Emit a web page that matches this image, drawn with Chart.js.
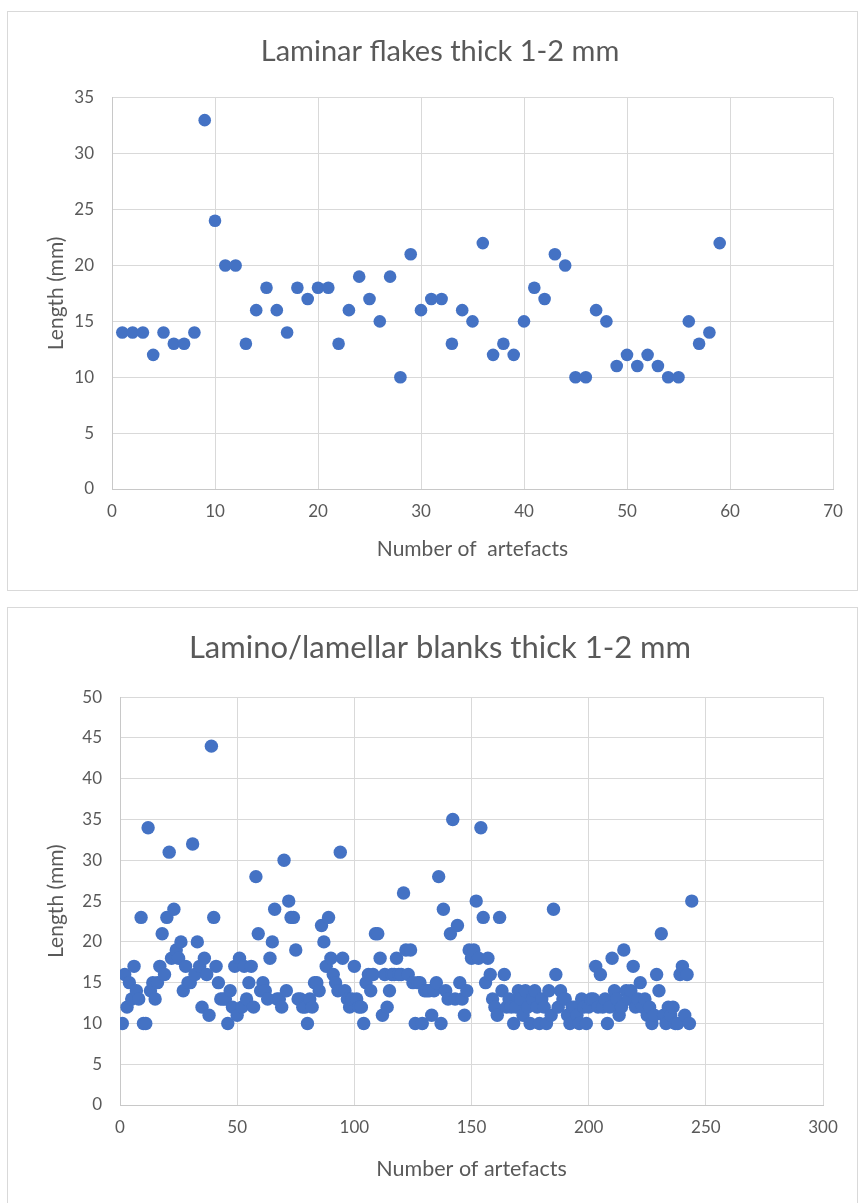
<!DOCTYPE html>
<html>
<head>
<meta charset="utf-8">
<script src="https://cdn.jsdelivr.net/npm/chart.js@4.4.0/dist/chart.umd.min.js"></script>
<style>
  body { margin: 0; background: #fff; width: 858px; height: 1203px; overflow: hidden; position: relative; }
  .box { position: absolute; border: 1px solid #d9d9d9; background: #fff; }
  canvas { display: block; }
</style>
</head>
<body>
<div class="box" id="box1" style="left:7px; top:11px; width:849px; height:578px;">
  <canvas id="chart1" width="849" height="578"></canvas>
</div>
<div class="box" id="box2" style="left:7px; top:607px; width:849px; height:600px;">
  <canvas id="chart2" width="849" height="596"></canvas>
</div>
<script>
// ---- data: laminar flakes (top chart) ----
const flakeTitle = 'Laminar flakes thick 1-2 mm';
const flakeLengths = [
  14, 14, 14, 12, 14, 13, 13, 14, 33, 24,
  20, 20, 13, 16, 18, 16, 14, 18, 17, 18,
  18, 13, 16, 19, 17, 15, 19, 10, 21, 16,
  17, 17, 13, 16, 15, 22, 12, 13, 12, 15,
  18, 17, 21, 20, 10, 10, 16, 15, 11, 12,
  11, 12, 11, 10, 10, 15, 13, 14, 22
];
const flakeXTicks = [0, 10, 20, 30, 40, 50, 60, 70];
const flakeYTicks = [0, 5, 10, 15, 20, 25, 30, 35];

// ---- data: lamino/lamellar blanks (bottom chart) ----
const blankTitle = 'Lamino/lamellar blanks thick 1-2 mm';
const blankLengths = [
  10, 16, 12, 15, 13, 17, 14, 13, 23, 10,
  10, 34, 14, 15, 13, 15, 17, 21, 16, 23,
  31, 18, 24, 19, 18, 20, 14, 17, 15, 15,
  32, 16, 20, 17, 12, 18, 16, 11, 44, 23,
  17, 15, 13, 13, 13, 10, 14, 12, 17, 11,
  18, 12, 17, 13, 15, 17, 12, 28, 21, 14,
  15, 14, 13, 18, 20, 24, 13, 13, 12, 30,
  14, 25, 23, 23, 19, 13, 13, 12, 12, 10,
  13, 12, 15, 15, 14, 22, 20, 17, 23, 18,
  16, 15, 14, 31, 18, 14, 13, 12, 13, 17,
  13, 12, 12, 10, 15, 16, 14, 16, 21, 21,
  18, 11, 16, 12, 14, 16, 16, 18, 16, 16,
  26, 19, 16, 19, 15, 10, 15, 15, 10, 14,
  14, 14, 11, 14, 15, 28, 10, 24, 14, 13,
  21, 35, 13, 22, 15, 13, 11, 14, 19, 18,
  19, 25, 18, 34, 23, 15, 18, 16, 13, 12,
  11, 23, 14, 16, 12, 13, 12, 10, 12, 14,
  13, 11, 14, 12, 10, 13, 14, 12, 10, 13,
  12, 10, 14, 11, 24, 16, 12, 14, 13, 13,
  11, 10, 12, 12, 11, 10, 13, 12, 10, 12,
  13, 13, 17, 12, 16, 12, 13, 10, 12, 18,
  14, 13, 11, 12, 19, 14, 13, 14, 17, 12,
  13, 15, 12, 13, 11, 12, 10, 11, 16, 14,
  21, 11, 10, 12, 11, 12, 10, 10, 16, 17,
  11, 16, 10, 25
];
const blankXTicks = [0, 50, 100, 150, 200, 250, 300];
const blankYTicks = [0, 5, 10, 15, 20, 25, 30, 35, 40, 45, 50];

const yAxisTitle = 'Length (mm)';
const flakeXTitle = 'Number of  artefacts';
const blankXTitle = 'Number of artefacts';

const FONT = 'Lato, "Open Sans", sans-serif';
const TEXT = '#595959';
const GRID = '#d9d9d9';
const DOT = '#4472c4';

function toPoints(values) {
  return values.map((v, i) => ({ x: i + 1, y: v }));
}

function makeScatter(canvasId, cfg) {
  const ctx = document.getElementById(canvasId);
  return new Chart(ctx, {
    type: 'scatter',
    data: {
      datasets: [{
        data: toPoints(cfg.values),
        backgroundColor: DOT,
        borderColor: DOT,
        borderWidth: 0,
        pointRadius: cfg.radius,
        pointHoverRadius: cfg.radius
      }]
    },
    options: {
      responsive: false,
      animation: false,
      events: [],
      layout: { padding: { top: 0, right: 0, bottom: 0, left: cfg.leftPad } },
      plugins: {
        legend: { display: false },
        tooltip: { enabled: false },
        title: {
          display: true,
          text: cfg.title,
          color: TEXT,
          font: { family: FONT, size: cfg.titleSize, weight: 'normal', lineHeight: 1.2 },
          padding: { top: cfg.titleTop, bottom: cfg.titleBottom }
        }
      },
      scales: {
        x: {
          type: 'linear',
          min: cfg.xTicks[0],
          max: cfg.xTicks[cfg.xTicks.length - 1],
          afterBuildTicks: s => { s.ticks = cfg.xTicks.map(v => ({ value: v })); },
          afterFit: s => { s.height = cfg.xBoxHeight; },
          grid: { color: GRID, lineWidth: 1, drawTicks: false },
          border: { color: '#c8c8c8', width: 1 },
          ticks: { color: TEXT, font: { family: FONT, size: 17 }, padding: 12, maxRotation: 0 },
          title: {
            display: true,
            text: cfg.xTitle,
            color: TEXT,
            font: { family: FONT, size: cfg.xTitleSize },
            padding: { top: 0, bottom: cfg.xTitleBottom }
          }
        },
        y: {
          type: 'linear',
          min: cfg.yTicks[0],
          max: cfg.yTicks[cfg.yTicks.length - 1],
          afterBuildTicks: s => { s.ticks = cfg.yTicks.map(v => ({ value: v })); },
          afterFit: s => { s.width = cfg.yBoxWidth; },
          grid: { color: GRID, lineWidth: 1, drawTicks: false },
          border: { color: '#c8c8c8', width: 1 },
          ticks: { color: TEXT, font: { family: FONT, size: 17 }, padding: 18 },
          title: {
            display: true,
            text: yAxisTitle,
            color: TEXT,
            font: { family: FONT, size: 21 },
            padding: { top: cfg.yTitleTop, bottom: 0 }
          }
        },
        // empty right-hand axis, only keeps the margin right of the plot
        rightGap: {
          type: 'linear',
          position: 'right',
          display: true,
          grid: { display: false, drawTicks: false },
          border: { display: false },
          ticks: { display: false },
          afterFit: s => { s.width = cfg.rightGap; }
        }
      }
    }
  });
}

makeScatter('chart1', {
  title: flakeTitle,
  titleSize: 29,
  values: flakeLengths,
  xTicks: flakeXTicks,
  yTicks: flakeYTicks,
  xTitle: flakeXTitle,
  xTitleSize: 21,
  radius: 6.3,
  leftPad: 15,
  rightGap: 24,
  titleTop: 22,
  titleBottom: 29,
  xBoxHeight: 101,
  xTitleBottom: 28,
  yBoxWidth: 89,
  yTitleTop: 21
});

makeScatter('chart2', {
  title: blankTitle,
  titleSize: 31,
  values: blankLengths,
  xTicks: blankXTicks,
  yTicks: blankYTicks,
  xTitle: blankXTitle,
  xTitleSize: 21.5,
  radius: 6.7,
  leftPad: 15,
  rightGap: 34,
  titleTop: 21,
  titleBottom: 31,
  xBoxHeight: 99,
  xTitleBottom: 22,
  yBoxWidth: 97,
  yTitleTop: 21
});
</script>
</body>
</html>
